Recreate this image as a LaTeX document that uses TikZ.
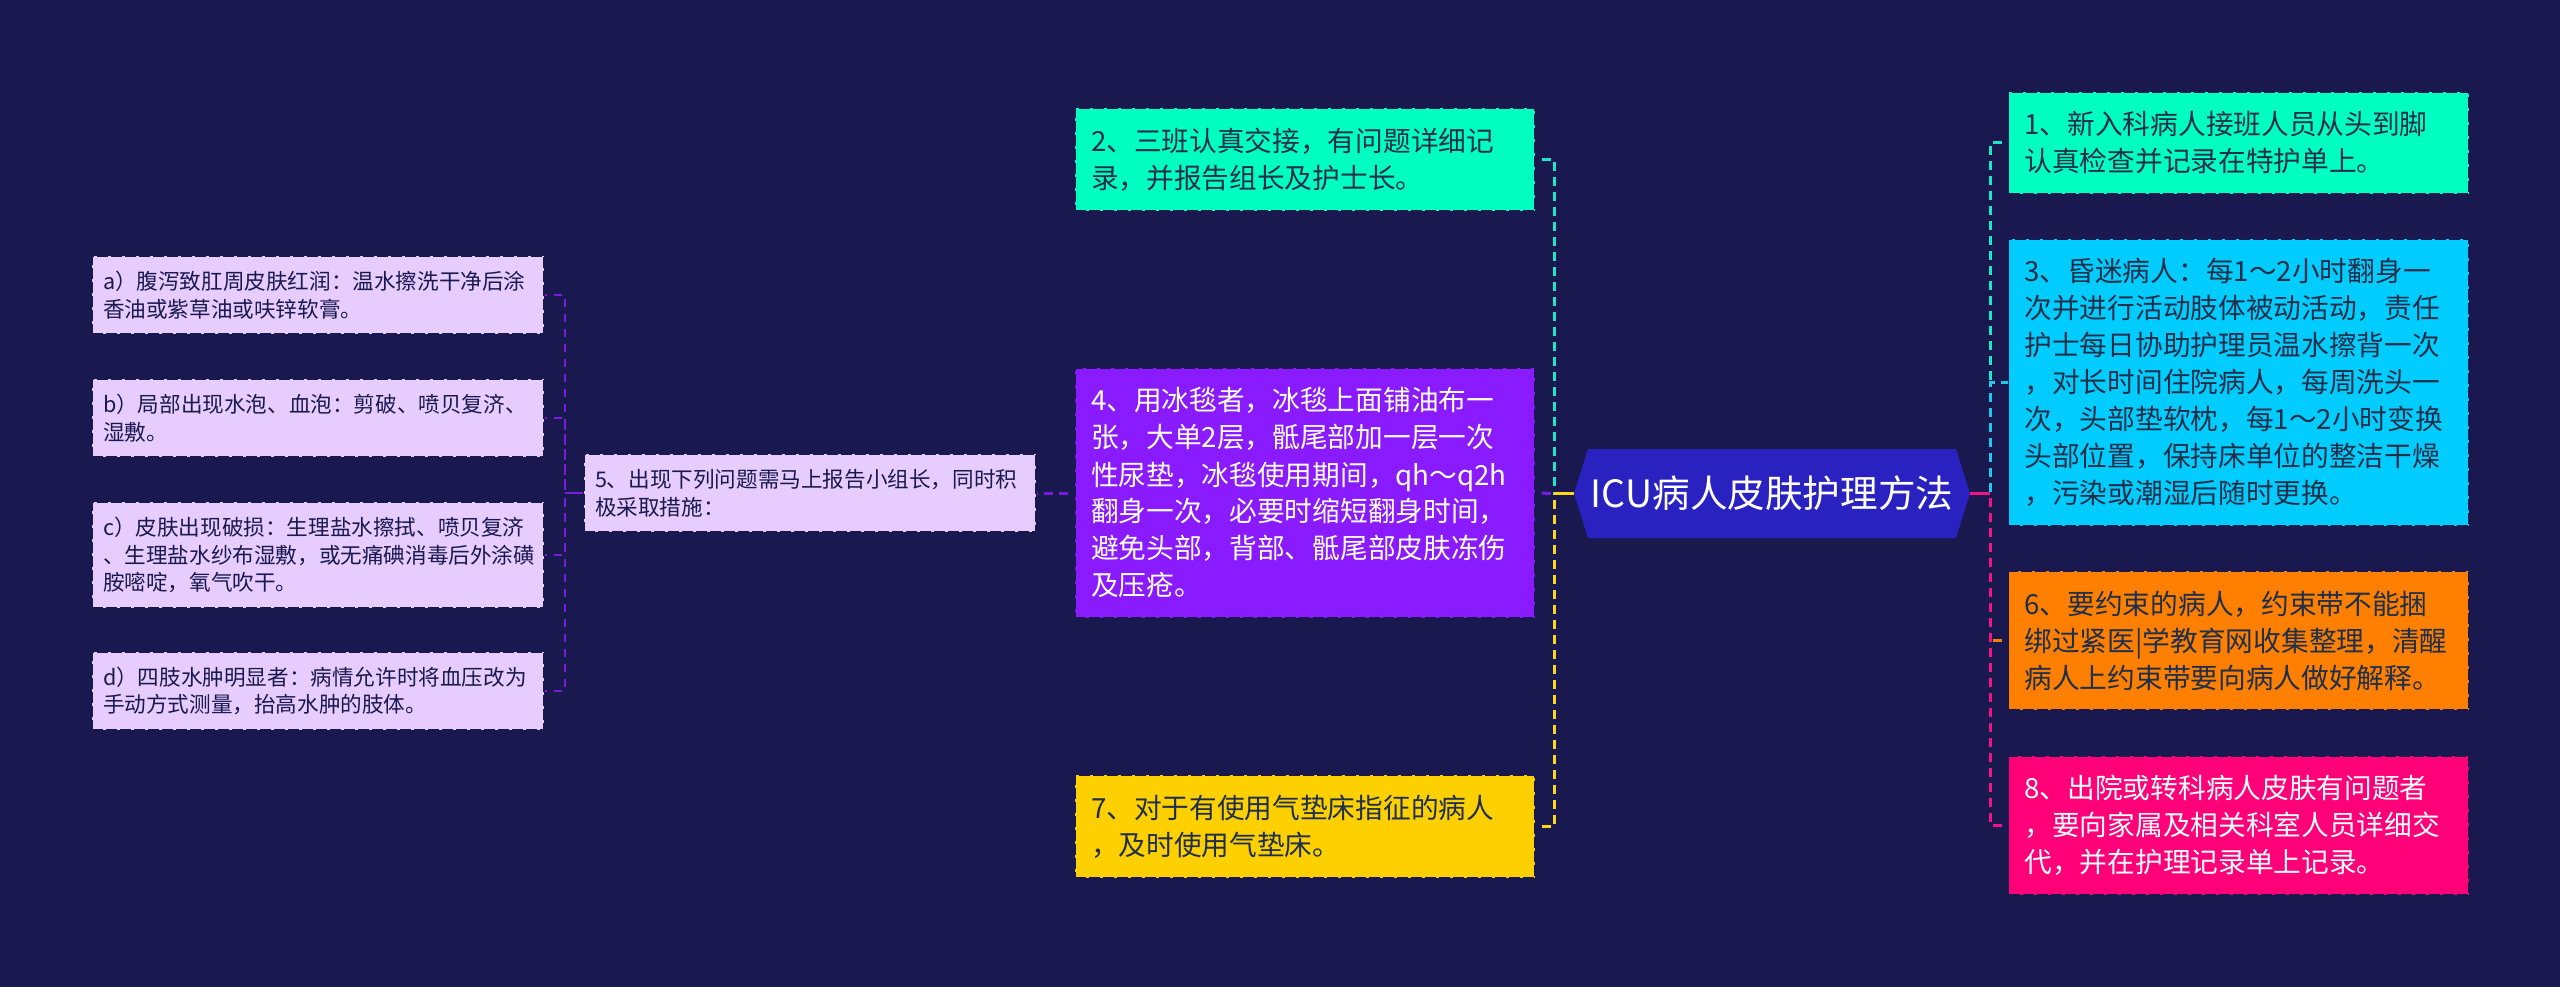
\documentclass[tikz,border=0pt]{standalone}
\usepackage{fontspec}
\usetikzlibrary{shapes.symbols}
\setmainfont{Noto Sans CJK SC}
\definecolor{bgc}{HTML}{191950}
\definecolor{teal}{HTML}{00FFC0}
\definecolor{tealL}{HTML}{1CE8C8}
\definecolor{vio}{HTML}{8A1AFF}
\definecolor{vioL}{HTML}{7A1CE0}
\definecolor{cya}{HTML}{00CCFF}
\definecolor{cyaL}{HTML}{1FC8EE}
\definecolor{ora}{HTML}{FF7F00}
\definecolor{pnk}{HTML}{FF0078}
\definecolor{pnkL}{HTML}{F01487}
\definecolor{yel}{HTML}{FFD000}
\definecolor{yelL}{HTML}{FFD71A}
\definecolor{lav}{HTML}{E6CCFF}
\definecolor{hexc}{HTML}{2A22C0}
\definecolor{ink}{HTML}{1F2F4A}
\tikzset{
  boxbase/.style={rectangle,inner sep=0pt,align=left,draw=bgc,line width=1.5pt,dash pattern=on 11pt off 3pt},
  bigbox/.style n args={3}{boxbase,fill=#1,text=#2,minimum height=#3,minimum width=460pt,text width=428pt,font=\fontsize{27.7}{37}\selectfont},
  smallbox/.style={boxbase,fill=lav,text=bgc,minimum height=#1,minimum width=452pt,text width=430pt,font=\fontsize{21.6}{27.7}\selectfont},
  link/.style={line width=3pt,dash pattern=on 9pt off 6pt,dash phase=9pt},
  sublink/.style={line width=2pt,dash pattern=on 8pt off 7pt,dash phase=6pt},
}
\begin{document}
\begin{tikzpicture}[x=1pt,y=-1pt]
\useasboundingbox[fill=bgc] (0,0) rectangle (2560,987);
% central
\node[signal,signal to=west and east,signal pointer angle=145,fill=hexc,inner sep=0pt,minimum width=396pt,minimum height=89pt,text=white,font=\fontsize{37.6}{44}\selectfont] (root) at (1772,493.5) {ICU病人皮肤护理方法};
% right column
\node[bigbox={teal}{ink}{102pt}] (n1) at (2238.5,143) {1、新入科病人接班人员从头到脚\\认真检查并记录在特护单上。};
\node[bigbox={cya}{ink}{287pt}] (n3) at (2238.5,382.5) {3、昏迷病人：每1～2小时翻身一\\次并进行活动肢体被动活动，责任\\护士每日协助护理员温水擦背一次\\，对长时间住院病人，每周洗头一\\次，头部垫软枕，每1～2小时变换\\头部位置，保持床单位的整洁干燥\\，污染或潮湿后随时更换。};
\node[bigbox={ora}{ink}{139pt}] (n6) at (2238.5,640.5) {6、要约束的病人，约束带不能捆\\绑过紧医|学教育网收集整理，清醒\\病人上约束带要向病人做好解释。};
\node[bigbox={pnk}{white}{139pt}] (n8) at (2238.5,825.5) {8、出院或转科病人皮肤有问题者\\，要向家属及相关科室人员详细交\\代，并在护理记录单上记录。};
% middle column
\node[bigbox={teal}{ink}{103pt}] (n2) at (1305,159.5) {2、三班认真交接，有问题详细记\\录，并报告组长及护士长。};
\node[bigbox={vio}{white}{250pt}] (n4) at (1305,493) {4、用冰毯者，冰毯上面铺油布一\\张，大单2层，骶尾部加一层一次\\性尿垫，冰毯使用期间，qh～q2h\\翻身一次，必要时缩短翻身时间，\\避免头部，背部、骶尾部皮肤冻伤\\及压疮。};
\node[bigbox={yel}{ink}{103pt}] (n7) at (1305,826.5) {7、对于有使用气垫床指征的病人\\，及时使用气垫床。};
% left
\node[smallbox=78pt] (n5) at (810,493) {5、出现下列问题需马上报告小组长，同时积\\极采取措施：};
\node[smallbox=78pt] (a) at (318,295) {a）腹泻致肛周皮肤红润：温水擦洗干净后涂\\香油或紫草油或呋锌软膏。};
\node[smallbox=78pt] (b) at (318,418) {b）局部出现水泡、血泡：剪破、喷贝复济、\\湿敷。};
\node[smallbox=106pt] (c) at (318,555) {c）皮肤出现破损：生理盐水擦拭、喷贝复济\\、生理盐水纱布湿敷，或无痛碘消毒后外涂磺\\胺嘧啶，氧气吹干。};
\node[smallbox=78pt] (d) at (318,691) {d）四肢水肿明显者：病情允许时将血压改为\\手动方式测量，抬高水肿的肢体。};
% junctions
\coordinate (lj) at (1554,493.5);
\coordinate (rj) at (1990,493.5);
\coordinate (sj) at (564.5,493);
\coordinate (rc) at (1990,382.5);
% connectors
\draw[link,draw=vioL] (n4.east) -- (lj);
\draw[link,draw=tealL] (n2.east) -| (lj);
\draw[link,draw=yelL] (n7.east) -| (lj);
\draw[link,draw=tealL] (n1.west) -| (rc);
\draw[link,draw=cyaL,dash phase=2pt] (n3.west) -| (rj);
\draw[link,draw=pnkL] (n8.west) -| (rj);
\draw[link,draw=ora] (n6.west) -- (n6.west -| rj);
\draw[line width=3pt,draw=yelL] (root.west) -- (lj);
\draw[line width=3pt,draw=pnkL] (root.east) -- (rj);
\draw[link,draw=vioL] (n4.west) -- (n5.east);
\draw[sublink,draw=vioL] (a.east) -| (sj);
\draw[sublink,draw=vioL] (b.east) -| (sj);
\draw[sublink,draw=vioL] (c.east) -| (sj);
\draw[sublink,draw=vioL] (d.east) -| (sj);
\draw[line width=2pt,draw=vioL] (n5.west) -- (sj);
\end{tikzpicture}
\end{document}
